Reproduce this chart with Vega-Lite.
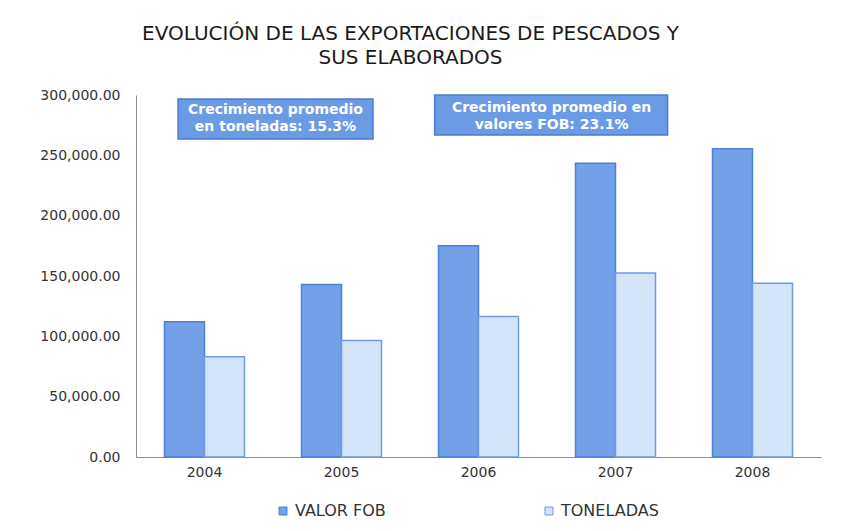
{
  "$schema": "https://vega.github.io/schema/vega-lite/v6.json",
  "width": 685,
  "height": 362,
  "autosize": {"type": "none"},
  "padding": {"left": 136, "top": 95, "right": 33, "bottom": 74},
  "background": "white",
  "config": {"view": {"stroke": null}, "font": "DejaVu Sans"},
  "title": {
    "text": ["EVOLUCIÓN DE LAS EXPORTACIONES DE PESCADOS Y", "SUS ELABORADOS"],
    "font": "DejaVu Sans",
    "fontSize": 20,
    "fontWeight": "normal",
    "color": "#1a1a1a",
    "anchor": "middle",
    "frame": "group",
    "dx": -68,
    "offset": 20,
    "lineHeight": 24
  },
  "datasets": {
    "exports": [
      {"year": "2004", "series": "VALOR FOB", "value": 112000},
      {"year": "2004", "series": "TONELADAS", "value": 83000},
      {"year": "2005", "series": "VALOR FOB", "value": 143000},
      {"year": "2005", "series": "TONELADAS", "value": 96500},
      {"year": "2006", "series": "VALOR FOB", "value": 175000},
      {"year": "2006", "series": "TONELADAS", "value": 116500},
      {"year": "2007", "series": "VALOR FOB", "value": 243500},
      {"year": "2007", "series": "TONELADAS", "value": 152500},
      {"year": "2008", "series": "VALOR FOB", "value": 255500},
      {"year": "2008", "series": "TONELADAS", "value": 144000}
    ],
    "notes": [{"id": 1}]
  },
  "data": {"name": "exports"},
  "layer": [
    {
      "mark": {"type": "bar", "strokeWidth": 1.5},
      "encoding": {
        "x": {
          "field": "year",
          "type": "nominal",
          "scale": {"paddingInner": 0.416, "paddingOuter": 0.208},
          "axis": {
            "title": null,
            "labelAngle": 0,
            "domainColor": "#8c8c8c",
            "ticks": false,
            "labelFontSize": 14,
            "labelColor": "#333333",
            "labelPadding": 8,
            "labelFont": "DejaVu Sans"
          }
        },
        "xOffset": {
          "field": "series",
          "type": "nominal",
          "scale": {"domain": ["VALOR FOB", "TONELADAS"], "paddingInner": 0, "paddingOuter": 0}
        },
        "y": {
          "field": "value",
          "type": "quantitative",
          "scale": {"domain": [0, 300000], "nice": false},
          "axis": {
            "title": null,
            "values": [0, 50000, 100000, 150000, 200000, 250000, 300000],
            "format": ",.2f",
            "grid": false,
            "ticks": false,
            "labelPadding": 16,
            "domainColor": "#8c8c8c",
            "labelFontSize": 14,
            "labelColor": "#333333",
            "labelFont": "DejaVu Sans"
          }
        },
        "color": {
          "field": "series",
          "type": "nominal",
          "scale": {"domain": ["VALOR FOB", "TONELADAS"], "range": ["#73a0e6", "#d4e4f9"]},
          "legend": {
            "orient": "none",
            "legendX": 139,
            "legendY": 408,
            "direction": "horizontal",
            "title": null,
            "symbolType": "square",
            "symbolSize": 64,
            "symbolStrokeColor": "#4d80d8",
            "symbolStrokeWidth": 1,
            "labelFontSize": 16,
            "labelColor": "#333333",
            "labelFont": "DejaVu Sans",
            "columnPadding": 155,
            "padding": 0
          }
        },
        "stroke": {
          "field": "series",
          "type": "nominal",
          "scale": {"domain": ["VALOR FOB", "TONELADAS"], "range": ["#4d80d8", "#6e9be2"]},
          "legend": null
        }
      }
    },
    {
      "data": {"name": "notes"},
      "layer": [
        {
          "mark": {"type": "rect", "fill": "#6b9be4", "stroke": "#4a7cd0", "strokeWidth": 1.5},
          "encoding": {
            "x": {"datum": 0.307, "type": "quantitative", "scale": {"domain": [0, 5], "nice": false, "zero": false}, "axis": null},
            "x2": {"datum": 1.73},
            "y": {"datum": 296700, "type": "quantitative"},
            "y2": {"datum": 263500}
          }
        },
        {
          "mark": {"type": "text", "text": ["Crecimiento promedio", "en toneladas: 15.3%"], "font": "DejaVu Sans", "fontWeight": "bold", "fontSize": 14, "fill": "white", "lineHeight": 17, "align": "center", "baseline": "middle"},
          "encoding": {
            "x": {"datum": 1.018, "type": "quantitative"},
            "y": {"datum": 287600, "type": "quantitative"}
          }
        },
        {
          "mark": {"type": "rect", "fill": "#6b9be4", "stroke": "#4a7cd0", "strokeWidth": 1.5},
          "encoding": {
            "x": {"datum": 2.18, "type": "quantitative"},
            "x2": {"datum": 3.88},
            "y": {"datum": 300000, "type": "quantitative"},
            "y2": {"datum": 266900}
          }
        },
        {
          "mark": {"type": "text", "text": ["Crecimiento promedio en", "valores FOB: 23.1%"], "font": "DejaVu Sans", "fontWeight": "bold", "fontSize": 14, "fill": "white", "lineHeight": 17, "align": "center", "baseline": "middle"},
          "encoding": {
            "x": {"datum": 3.033, "type": "quantitative"},
            "y": {"datum": 289000, "type": "quantitative"}
          }
        }
      ]
    }
  ],
  "resolve": {"scale": {"x": "independent"}}
}
